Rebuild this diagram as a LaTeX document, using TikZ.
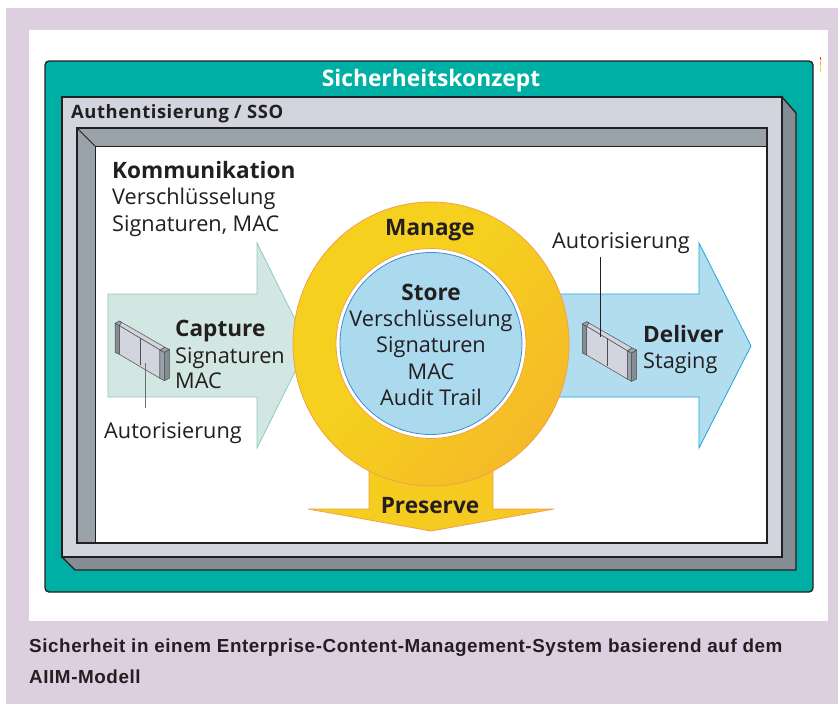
\documentclass[tikz,border=0pt]{standalone}
\usepackage{fontspec}
\setmainfont{Open Sans}
\newfontfamily\capfont[LetterSpace=3]{Liberation Sans}
\newfontfamily\authfont[LetterSpace=3]{Open Sans}
\definecolor{lilac}{HTML}{DDCFDF}
\definecolor{teal}{HTML}{00AFA3}
\definecolor{lgray}{HTML}{D2D5DE}
\definecolor{mgray}{HTML}{9AA2A9}
\definecolor{dgray}{HTML}{858D94}
\definecolor{ink}{HTML}{231F20}
\definecolor{mint}{HTML}{D2E6E2}
\definecolor{mintl}{HTML}{8CCBBE}
\definecolor{sky}{HTML}{B1DDEF}
\definecolor{skyin}{HTML}{ABD9EE}
\definecolor{skyl}{HTML}{1FA5DC}
\definecolor{bluel}{HTML}{3C8FD0}
\definecolor{gold}{HTML}{F5D01E}
\definecolor{orng}{HTML}{F5B52A}
\definecolor{orl}{HTML}{F2A04A}
\pgfdeclarehorizontalshading{ringshade}{100bp}{color(0bp)=(gold); color(45bp)=(gold); color(82bp)=(orng); color(100bp)=(orng)}
\tikzset{
 frameline/.style={draw=ink,line width=1.3pt,line join=miter},
 lbl/.style={inner sep=0pt,anchor=base west,text=ink,font=\fontsize{21.7}{24}\selectfont},
 lblb/.style={lbl,font=\fontsize{22.6}{26}\selectfont\bfseries},
 lblc/.style={lbl,anchor=base},
 lblbc/.style={lblb,anchor=base},
 captext/.style={inner sep=0pt,anchor=base west,text=ink,font=\capfont\fontsize{18.85}{22}\selectfont\bfseries},
 leader/.style={draw=ink,line width=0.7pt},
 devline/.style={draw=ink!80,line width=0.5pt,line join=round}
}
\newcommand{\device}{%
 \fill[lgray,devline] (43,33)--(180,112)--(165,120)--(43,47)--cycle;
 \fill[lgray,devline] (43,47)--(165,120)--(165,205)--(43,133)--cycle;
 \fill[dgray,devline] (30,40)--(43,47)--(43,133)--(30,127)--cycle;
 \fill[mgray,devline] (30,40)--(43,33)--(50,37)--(43,47)--cycle;
 \fill[mgray,devline] (165,120)--(178,127)--(178,212)--(165,205)--cycle;
 \fill[dgray,devline] (178,127)--(193,118)--(193,205)--(178,212)--cycle;
 \fill[mgray,devline] (165,120)--(180,112)--(193,118)--(178,127)--cycle;
 \draw[devline] (105,83)--(105,165);
}
\begin{document}
\begin{tikzpicture}[x=1pt,y=-1pt]
\useasboundingbox (0,0) rectangle (838,704);
\fill[lilac] (6,8) rectangle (838,704);
\fill[white] (29,30) rectangle (828,621);
\fill[red!70!orange] (819.5,57) rectangle (820.5,60);
\fill[orange!70] (819.5,61) rectangle (820.5,66);
\fill[yellow!80!orange] (819.5,67) rectangle (820.5,72);
\draw[frameline,fill=teal,rounded corners=4pt] (45,61) rectangle (813,592);
\node[inner sep=0pt,anchor=base,text=white,font=\fontsize{22.8}{26}\selectfont\bfseries] (title) at (431,86) {Sicherheitskonzept};
% outer gray frame
\draw[frameline,fill=dgray] (782,97)--(796,113)--(796,570)--(75,570)--(62,557)--(782,557)--cycle;
\draw[frameline,fill=lgray] (62,97) rectangle (782,557);
\node[inner sep=0pt,anchor=base west,text=ink,font=\authfont\fontsize{18.4}{20}\selectfont\bfseries] (auth) at (71,118) {Authentisierung / SSO};
% inner
\draw[frameline,fill=white] (77,128) rectangle (767,543);
\draw[frameline,line width=1pt,fill=mgray] (77,128)--(767,128)--(767,146)--(95,146)--(95,543)--(77,543)--cycle;
\draw[frameline,line width=1pt] (77,128)--(95,146);
\draw[draw=ink,line width=1.3pt] (77,128) rectangle (767,543);
\node[lblb] (komm) at (112,178) {Kommunikation};
\node[lbl] (ver) at (112,204) {Verschlüsselung};
\node[lbl] (sig) at (112,231) {Signaturen, MAC};
% left arrow
\draw[draw=mintl,line width=0.8pt,fill=mint] (108,294)--(257,294)--(257,243)--(308,345.5)--(257,448)--(257,397)--(108,397)--cycle;
% right arrow
\draw[draw=skyl,line width=0.8pt,fill=sky] (500,294)--(699,294)--(699,243)--(751,346)--(699,448)--(699,397)--(500,397)--cycle;
% preserve arrow
\draw[draw=orl,line width=0.8pt,left color=gold,right color=gold!60!orng] (369,450)--(493,450)--(493,509)--(554,509)--(431,531)--(308,509)--(369,509)--cycle;
% ring
\draw[draw=orl,line width=0.8pt,shading=ringshade,shading angle=-40] (431,344) ellipse[x radius=138,y radius=142];
\draw[draw=orl,line width=0.8pt,fill=white] (431,343.5) circle[radius=95];
\draw[draw=bluel,line width=0.8pt,fill=skyin] (431,343.5) circle[radius=91];
\node[lblbc] (manage) at (430,235) {Manage};
\node[lblbc] (store) at (431,300) {Store};
\node[lblc] (s1) at (431,326.5) {Verschlüsselung};
\node[lblc] (s2) at (431,352.5) {Signaturen};
\node[lblc] (s3) at (431,379) {MAC};
\node[lblc] (s4) at (431,405) {Audit Trail};
\node[lblbc] (pres) at (430,513) {Preserve};
% capture
\node[lblb] (capt) at (175,336) {Capture};
\node[lbl] (c1) at (175,363) {Signaturen};
\node[lbl] (c2) at (175,388) {MAC};
\node[lbl] (auth1) at (104,438) {Autorisierung};
% deliver
\node[lblb] (deliv) at (643,342) {Deliver};
\node[lbl] (d1) at (643,368) {Staging};
\node[lbl] (auth2) at (552,248) {Autorisierung};
% devices
\begin{scope}[shift={(105,310)},x=0.3333pt,y=-0.3333pt]
\device
\coordinate (devL) at (122,160);
\coordinate (devLend) at (122,295);
\end{scope}
\draw[leader,draw=ink!65] (devL) -- (devLend);
\begin{scope}[shift={(572.3,310.7)},x=0.3333pt,y=-0.3333pt]
\device
\coordinate (devR) at (83,78);
\coordinate (devRend) at (83,-160);
\end{scope}
\draw[leader] (devR) -- (devRend);
% caption
\node[captext] (cap1) at (29,652) {Sicherheit in einem Enterprise-Content-Management-System basierend auf dem};
\node[captext] (cap2) at (29,683) {AIIM-Modell};
\end{tikzpicture}
\end{document}
